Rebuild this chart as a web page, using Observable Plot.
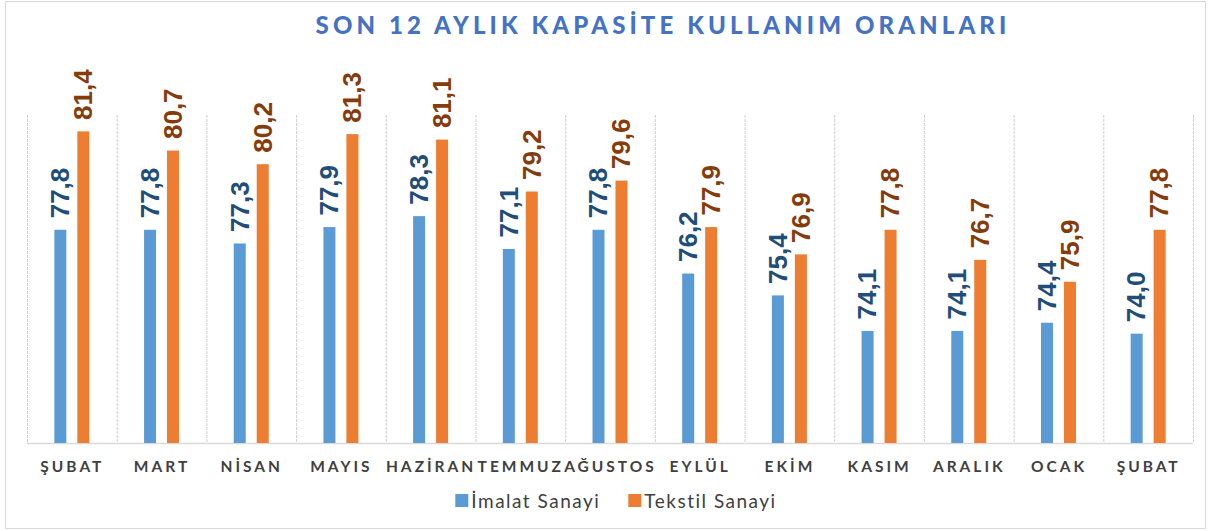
<!DOCTYPE html>
<html><head><meta charset="utf-8">
<script src="https://cdn.jsdelivr.net/npm/d3@7"></script>
<script src="https://cdn.jsdelivr.net/npm/@observablehq/plot@0.6"></script>
<style>
html,body{margin:0;padding:0;background:#fff;}
#wrap{position:relative;width:1211px;height:531px;overflow:hidden;background:#fff;}
#border{position:absolute;left:5px;top:1px;width:1199px;height:526px;border:1px solid #d9d9d9;}
#title{position:absolute;left:663px;top:13px;transform:translateX(-50%);white-space:nowrap;font-family:Lato,sans-serif;font-weight:900;font-size:24px;line-height:24px;letter-spacing:4.1px;color:#4472C4;}
#chart{position:absolute;left:0;top:50px;}
#legend{position:absolute;left:616px;top:489px;transform:translateX(-50%);white-space:nowrap;display:flex;align-items:center;font-family:Lato,sans-serif;font-size:19px;letter-spacing:1.5px;color:#404040;}
#legend .item{display:flex;align-items:center;margin:0 14px;}
#legend .sw{width:13px;height:13px;margin-right:3px;display:inline-block;}
#chart svg [aria-label="fx-axis tick label"] text{letter-spacing:3px;}
</style></head>
<body>
<div id="wrap">
  <div id="border"></div>
  <div id="title">SON 12 AYLIK KAPASİTE KULLANIM ORANLARI</div>
  <div id="chart"></div>
  <div id="legend"></div>
</div>
<script>
const months = ["ŞUBAT","MART","NİSAN","MAYIS","HAZİRAN","TEMMUZ","AĞUSTOS","EYLÜL","EKİM","KASIM","ARALIK","OCAK","ŞUBAT"];
const imalat = [77.8, 77.8, 77.3, 77.9, 78.3, 77.1, 77.8, 76.2, 75.4, 74.1, 74.1, 74.4, 74.0];
const tekstil = [81.4, 80.7, 80.2, 81.3, 81.1, 79.2, 79.6, 77.9, 76.9, 77.8, 76.7, 75.9, 77.8];
const series = ["İmalat Sanayi", "Tekstil Sanayi"];
const barColors = ["#5B9BD5", "#ED7D31"];
const labelColors = ["#1F4E79", "#843C0C"];
const yDomain = [70, 82];

const data = months.flatMap((m, i) => [
  {i, s: series[0], v: imalat[i]},
  {i, s: series[1], v: tekstil[i]}
]);
const fmt = v => v.toFixed(1).replace(".", ",");

const chart = Plot.plot({
  width: 1211, height: 430,
  marginTop: 65, marginBottom: 37, marginLeft: 27, marginRight: 18,
  style: {background: "transparent", overflow: "visible"},
  fx: {domain: d3.range(months.length), padding: 0, round: false, axis: null, label: null},
  x: {domain: series, paddingInner: 0.478, paddingOuter: 1.19, round: false, axis: null},
  y: {domain: yDomain, axis: null},
  color: {domain: series, range: barColors},
  marks: [
    Plot.frame({anchor: "left", stroke: "#cfcfcf", strokeDasharray: "2,2"}),
    Plot.frame({anchor: "right", facetAnchor: "right", stroke: "#cfcfcf", strokeDasharray: "2,2"}),
    Plot.ruleY([yDomain[0]], {stroke: "#d9d9d9", strokeWidth: 1.5}),
    Plot.barY(data, {fx: "i", x: "s", y1: yDomain[0], y2: "v", fill: "s"}),
    ...series.map((s, k) => Plot.text(data.filter(d => d.s === s), {
      fx: "i", x: "s", y: "v", text: d => fmt(d.v),
      rotate: -90, textAnchor: "start", lineAnchor: "middle", dy: -12,
      fill: labelColors[k], fontSize: 26, fontWeight: "bold",
      fontFamily: "'Liberation Sans', Arial, sans-serif"
    })),
    Plot.axisFx({anchor: "bottom", tickSize: 0, tickPadding: 17, label: null,
      tickFormat: i => months[i], fontSize: 15.5, fontWeight: "bold",
      fill: "#404040", fontFamily: "Lato, sans-serif"})
  ]
});
document.getElementById("chart").appendChild(chart);

const legend = document.getElementById("legend");
series.forEach((s, k) => {
  const item = document.createElement("span");
  item.className = "item";
  const sw = document.createElement("span");
  sw.className = "sw";
  sw.style.background = barColors[k];
  item.appendChild(sw);
  item.appendChild(document.createTextNode(s));
  legend.appendChild(item);
});
</script>
</body></html>
